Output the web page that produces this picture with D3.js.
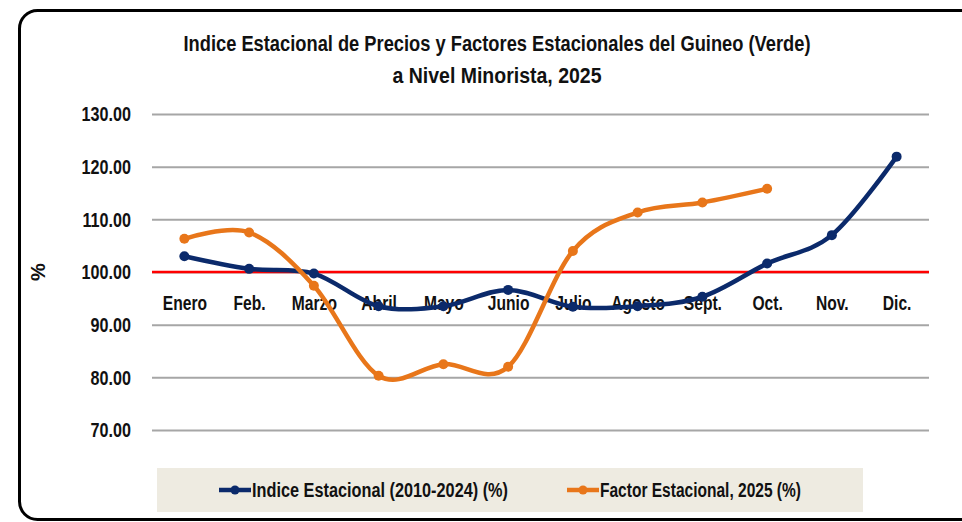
<!DOCTYPE html>
<html>
<head>
<meta charset="utf-8">
<script src="https://cdn.jsdelivr.net/npm/d3@7"></script>
<style>
  body { margin: 0; background: #fff; }
  text { font-family: "Liberation Sans", Arial, sans-serif; font-weight: bold; fill: #111; }
</style>
</head>
<body>
<svg id="chart"></svg>
<script>
var svgWidth = 962;
var svgHeight = 522;

// data
var months = ["Enero", "Feb.", "Marzo", "Abril", "Mayo", "Junio", "Julio", "Agosto", "Sept.", "Oct.", "Nov.", "Dic."];
var indice = [103.0, 100.6, 99.7, 93.5, 93.5, 96.6, 93.4, 93.5, 95.3, 101.6, 107.0, 121.9];
var factor = [106.3, 107.5, 97.4, 80.3, 82.5, 82.0, 104.0, 111.3, 113.2, 115.8];
var yTicks = [70, 80, 90, 100, 110, 120, 130];
var seriesNames = ["Indice Estacional (2010-2024) (%)", "Factor Estacional, 2025 (%)"];
var seriesColors = ["#0B2A6B", "#E8761A"];

var svg = d3.select("#chart")
  .attr("width", svgWidth)
  .attr("height", svgHeight);

// the original uses a narrow font, so squeeze the text a bit
function narrow(sel, f) {
  sel.each(function() {
    var w = this.getComputedTextLength();
    d3.select(this)
      .attr("textLength", w * f)
      .attr("lengthAdjust", "spacingAndGlyphs");
  });
}

// outer frame (right side runs off the picture)
svg.append("rect")
  .attr("x", 19.5).attr("y", 10.5)
  .attr("width", 1000).attr("height", 509)
  .attr("rx", 18).attr("ry", 18)
  .attr("fill", "#fff")
  .attr("stroke", "#000")
  .attr("stroke-width", 3);

// title
svg.append("text")
  .attr("x", 497).attr("y", 51)
  .attr("text-anchor", "middle")
  .attr("textLength", 627)
  .attr("lengthAdjust", "spacingAndGlyphs")
  .style("font-size", "22px")
  .text("Indice Estacional de Precios y Factores Estacionales del Guineo (Verde)");
svg.append("text")
  .attr("x", 497).attr("y", 83)
  .attr("text-anchor", "middle")
  .attr("textLength", 209)
  .attr("lengthAdjust", "spacingAndGlyphs")
  .style("font-size", "22px")
  .text("a Nivel Minorista, 2025");

var x = d3.scalePoint()
  .domain(months)
  .range([152, 929])
  .padding(0.5);

var y = d3.scaleLinear()
  .domain([70, 130])
  .range([430, 114]);

// gridlines + y labels
var yAxis = svg.append("g")
  .attr("transform", "translate(152,0)")
  .call(d3.axisLeft(y).tickValues(yTicks).tickSize(-777).tickFormat(d3.format(".2f")));
yAxis.select(".domain").remove();
yAxis.selectAll(".tick line")
  .attr("stroke", "#A6A6A6")
  .attr("stroke-width", 2);
yAxis.selectAll(".tick text")
  .attr("x", -21)
  .style("font-size", "21px")
  .style("font-family", "'Liberation Sans', sans-serif")
  .style("font-weight", "bold")
  .attr("fill", "#111")
  .call(narrow, 0.77);

svg.append("text")
  .attr("transform", "translate(45," + y(100) + ") rotate(-90)")
  .attr("text-anchor", "middle")
  .style("font-size", "20px")
  .text("%");

// reference line at 100
svg.append("line")
  .attr("x1", 152).attr("x2", 929)
  .attr("y1", y(100)).attr("y2", y(100))
  .attr("stroke", "#FF0000")
  .attr("stroke-width", 2.5);

// category labels sit under the 100 line
var xAxis = svg.append("g")
  .attr("transform", "translate(0," + y(100) + ")")
  .call(d3.axisBottom(x).tickSize(0).tickPadding(24));
xAxis.select(".domain").remove();
xAxis.selectAll(".tick text")
  .style("font-size", "20px")
  .style("font-family", "'Liberation Sans', sans-serif")
  .style("font-weight", "bold")
  .attr("fill", "#111")
  .call(narrow, 0.78);

var line = d3.line()
  .x(function(d, i) { return x(months[i]); })
  .y(function(d) { return y(d); })
  .curve(d3.curveCardinal);

[indice, factor].forEach(function(values, k) {
  svg.append("path")
    .datum(values)
    .attr("d", line)
    .attr("fill", "none")
    .attr("stroke", seriesColors[k])
    .attr("stroke-width", 4.5);

  svg.append("g")
    .selectAll("circle")
    .data(values)
    .enter()
    .append("circle")
      .attr("cx", function(d, i) { return x(months[i]); })
      .attr("cy", function(d) { return y(d); })
      .attr("r", 5)
      .attr("fill", seriesColors[k]);
});

// legend
svg.append("rect")
  .attr("x", 157).attr("y", 468)
  .attr("width", 706).attr("height", 44)
  .attr("fill", "#EEEBE1");

var legendX = [219, 567];
var legendW = [256, 201];
seriesNames.forEach(function(name, k) {
  var g = svg.append("g").attr("transform", "translate(" + legendX[k] + ",490)");
  g.append("line")
    .attr("x1", 0).attr("x2", 32)
    .attr("stroke", seriesColors[k])
    .attr("stroke-width", 4.5);
  g.append("circle")
    .attr("cx", 16).attr("r", 4.5)
    .attr("fill", seriesColors[k]);
  g.append("text")
    .attr("x", 33).attr("y", 7)
    .attr("textLength", legendW[k])
    .attr("lengthAdjust", "spacingAndGlyphs")
    .style("font-size", "20px")
    .text(name);
});
</script>
</body>
</html>
